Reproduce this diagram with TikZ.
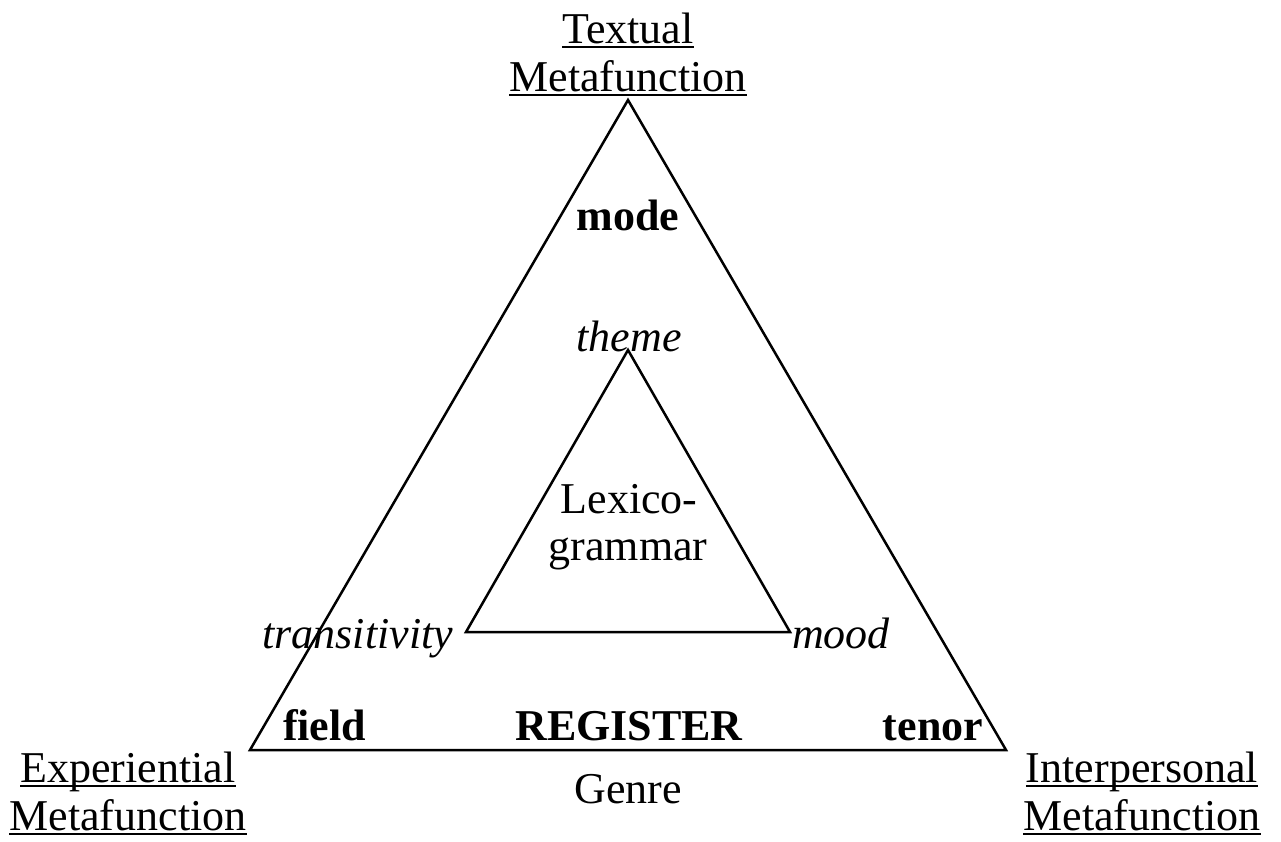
\documentclass[tikz,border=0pt]{standalone}
\usepackage{fontspec}
\setmainfont{Liberation Serif}
\begin{document}
\begin{tikzpicture}[x=1pt,y=-1pt,
  lbl/.style={inner sep=0pt,outer sep=0pt,font=\fontsize{44}{48}\selectfont},
  bl/.style={lbl,font=\fontsize{44}{48}\selectfont\bfseries},
  il/.style={lbl,font=\fontsize{44}{48}\selectfont\itshape},
  tri/.style={draw=black,line width=2.5pt,line join=miter},
  ul/.style={draw=black,line width=2.5pt}]
\useasboundingbox (0,0) rectangle (1281,841);
% triangles
\coordinate (OA) at (628,100);
\coordinate (OL) at (250,750);
\coordinate (OR) at (1006,750);
\coordinate (IA) at (628,350);
\coordinate (IL) at (466,632);
\coordinate (IR) at (790,632);
\draw[tri] (OA) -- (OL) -- (OR) -- cycle;
\draw[tri] (IA) -- (IL) -- (IR) -- cycle;
% top label
\node[lbl,anchor=base] (t1) at (628,43) {Textual};
\node[lbl,anchor=base] (t2) at (628,91) {Metafunction};
\draw[ul] ([yshift=-4pt]t1.base west) -- ([yshift=-4pt]t1.base east);
\draw[ul] ([yshift=-4pt]t2.base west) -- ([yshift=-4pt]t2.base east);
% left label
\node[lbl,anchor=base] (e1) at (128,782) {Experiential};
\node[lbl,anchor=base] (e2) at (128,830) {Metafunction};
\draw[ul] ([yshift=-4pt]e1.base west) -- ([yshift=-4pt]e1.base east);
\draw[ul] ([yshift=-4pt]e2.base west) -- ([yshift=-4pt]e2.base east);
% right label
\node[lbl,anchor=base] (p1) at (1142,782) {Interpersonal};
\node[lbl,anchor=base] (p2) at (1142,830) {Metafunction};
\draw[ul] ([yshift=-4pt]p1.base west) -- ([yshift=-4pt]p1.base east);
\draw[ul] ([yshift=-4pt]p2.base west) -- ([yshift=-4pt]p2.base east);
% inner texts
\node[bl,anchor=base] (mode) at (628,230) {mode};
\node[il,anchor=base] (theme) at (629,351) {theme};
\node[lbl,anchor=base] (lex1) at (629,513) {Lexico-};
\node[lbl,anchor=base] (lex2) at (628,560) {grammar};
\node[il,anchor=base east] (trans) at (453,648) {transitivity};
\node[il,anchor=base west] (mood) at (792,648) {mood};
\node[bl,anchor=base west] (field) at (283,740) {field};
\node[bl,anchor=base] (reg) at (629,740) {REGISTER};
\node[bl,anchor=base east] (tenor) at (983,740) {tenor};
\node[lbl,anchor=base] (genre) at (628,803) {Genre};
\end{tikzpicture}
\end{document}
